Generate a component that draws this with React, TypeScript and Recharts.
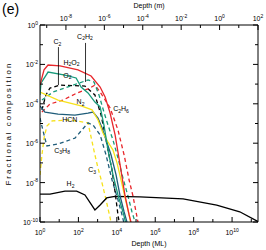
import React from 'react';
import { Line, LineChart, ReferenceDot, ReferenceLine, XAxis, YAxis } from 'recharts';

// depth = log10(depth in ML), frac = log10(fractional composition)
const h2o2Depth = [0, 0.21, 0.42, 1.04, 1.98, 2.66, 3.13, 3.39, 3.65, 3.91, 4.17, 4.43, 4.64, 4.84];
const h2o2Frac = [-3.05, -2.28, -2.03, -2.08, -2.28, -2.59, -3.15, -3.65, -4.47, -5.58, -7.1, -8.68, -9.64, -10.4];

const o2Depth = [0, 0.05, 0.42, 1.3, 1.88, 2.14, 2.5, 2.86, 3.13, 3.33, 3.54, 3.8, 4.06, 4.32, 4.53];
const o2Frac = [-3.55, -2.95, -2.39, -2.54, -2.69, -3.15, -3.45, -3.91, -4.16, -5.08, -6.35, -7.61, -8.63, -9.49, -10.3];

const n2Depth = [0, 0.94, 2.14, 2.71, 3.02, 3.28, 3.54, 3.8, 4.01, 4.22, 4.43, 4.64, 4.79];
const n2Frac = [-3.4, -3.81, -4.11, -4.31, -4.82, -5.48, -5.94, -6.35, -7.0, -7.87, -8.78, -9.64, -10.4];

const hcnDepth = [0, 0.26, 0.94, 1.82, 2.5, 2.76, 3.02, 3.23, 3.44, 3.7, 3.96, 4.17, 4.38, 4.64];
const hcnFrac = [-4.11, -4.42, -4.52, -4.57, -4.47, -4.42, -4.72, -5.23, -5.84, -6.6, -7.61, -8.68, -9.49, -10.4];

const c2Depth = [0.1, 0.31, 0.52, 1.04, 2.34, 2.86, 3.18, 3.39, 3.54, 3.75, 3.91, 4.06, 4.17];
const c2Frac = [-4.31, -3.55, -3.2, -3.05, -3.1, -3.55, -4.57, -5.58, -6.35, -7.36, -8.48, -9.64, -10.3];

const c2h2Depth = [0.1, 0.68, 1.72, 2.5, 2.81, 3.07, 3.33, 3.54, 3.8, 4.06, 4.32, 4.58, 4.79, 4.95, 5.05];
const c2h2Frac = [-3.81, -3.4, -3.05, -2.79, -2.89, -3.55, -4.42, -5.08, -5.84, -6.75, -7.77, -8.68, -9.49, -10, -10.4];

const c2h6Depth = [0.1, 0.52, 1.2, 1.93, 2.6, 2.86, 3.13, 3.65, 4.06, 4.38, 4.64, 4.84, 5.0, 5.1, 5.21];
const c2h6Frac = [-4.42, -4.01, -3.81, -3.45, -3.2, -3.05, -3.4, -4.21, -5.33, -6.6, -7.87, -8.68, -9.49, -10, -10.5];

const c3h8Depth = [0, 0.16, 0.36, 0.94, 1.82, 2.5, 2.76, 3.13, 3.44, 3.75, 4.06, 4.27, 4.43];
const c3h8Frac = [-4.72, -5.38, -6.14, -6.04, -5.74, -4.97, -5.08, -5.58, -6.6, -7.87, -8.88, -9.64, -10.3];

const c3Depth = [0, 0.1, 0.21, 0.36, 0.63, 1.56, 2.5, 2.86, 3.02, 3.23, 3.44, 3.65, 3.75];
const c3Frac = [-7.61, -6.6, -5.74, -5.13, -4.87, -4.82, -4.97, -6.6, -7.26, -8.02, -8.88, -9.79, -10.3];

const h2Depth = [0, 0.52, 1.3, 1.91, 2.34, 2.86, 3.13, 3.47, 3.9, 5.2, 7.45, 9.2, 10.4, 11.35];
const h2Frac = [-8.58, -8.58, -8.43, -8.43, -8.63, -9.39, -9.14, -8.78, -8.7, -8.72, -8.83, -9.14, -9.48, -9.98];

const mlTicks = [0, 1, 2, 3, 4, 5, 6, 7, 8, 9, 10, 11];
const meterTicks = [-9, -8, -7, -6, -5, -4, -3, -2, -1, 0, 1, 2];
const fracTicks = [-10, -9, -8, -7, -6, -5, -4, -3, -2, -1, 0];

const FONT = '"Liberation Sans", Arial, sans-serif';
const RED = '#e8262b';
const TEAL = '#179a7a';
const YELLOW = '#f6e21c';
const NAVY = '#1f5d7a';

const pts = (xs: number[], ys: number[]) => xs.map((x, i) => ({ x, y: ys[i] }));

const series = [
  { key: 'C3', data: pts(c3Depth, c3Frac), color: YELLOW, dash: '4 3' },
  { key: 'C3H8', data: pts(c3h8Depth, c3h8Frac), color: NAVY, dash: '4 3' },
  { key: 'C2', data: pts(c2Depth, c2Frac), color: '#000', dash: '4 3' },
  { key: 'C2H6', data: pts(c2h6Depth, c2h6Frac), color: RED, dash: '4 3' },
  { key: 'C2H2', data: pts(c2h2Depth, c2h2Frac), color: TEAL, dash: '4 3' },
  { key: 'H2', data: pts(h2Depth, h2Frac), color: '#000', dash: undefined },
  { key: 'HCN', data: pts(hcnDepth, hcnFrac), color: NAVY, dash: undefined },
  { key: 'N2', data: pts(n2Depth, n2Frac), color: YELLOW, dash: undefined },
  { key: 'O2', data: pts(o2Depth, o2Frac), color: TEAL, dash: undefined },
  { key: 'H2O2', data: pts(h2o2Depth, h2o2Frac), color: RED, dash: undefined },
];

// label centres in (log ML, log frac)
const labels = [
  { text: 'C2', x: 0.91, y: -0.85 },
  { text: 'C2H2', x: 2.34, y: -0.58 },
  { text: 'H2O2', x: 1.64, y: -1.88 },
  { text: 'O2', x: 1.43, y: -2.54 },
  { text: 'N2', x: 2.11, y: -3.89 },
  { text: 'HCN', x: 1.55, y: -4.82 },
  { text: 'C2H6', x: 4.22, y: -4.26 },
  { text: 'C3H8', x: 1.15, y: -6.35 },
  { text: 'C3', x: 2.71, y: -7.36 },
  { text: 'H2', x: 1.59, y: -8.05 },
];

const Pow = ({ x, y, exp, anchor }: any) => (
  <text x={x} y={y} textAnchor={anchor} fontSize={7} fontFamily={FONT} fill="#000">
    10
    <tspan dy={-3.5} fontSize={5}>
      {String(exp)}
    </tspan>
  </text>
);

const BottomTick = ({ x, y, payload }: any) => {
  const major = payload.value % 2 === 0;
  return (
    <g>
      <line x1={x} y1={y} x2={x} y2={y - (major ? 5 : 3)} stroke="#000" />
      {major && <Pow x={x} y={y + 13} exp={payload.value} anchor="middle" />}
    </g>
  );
};

const TopTick = ({ x, y, payload }: any) => {
  const major = payload.value % 2 === 0;
  return (
    <g>
      <line x1={x} y1={y} x2={x} y2={y + (major ? 5 : 3)} stroke="#000" />
      {major && <Pow x={x} y={y - 4} exp={payload.value} anchor="middle" />}
    </g>
  );
};

const LeftTick = ({ x, y, payload }: any) => {
  const major = payload.value % 2 === 0;
  return (
    <g>
      <line x1={x} y1={y} x2={x + (major ? 5 : 3)} y2={y} stroke="#000" />
      {major && <Pow x={x - 2} y={y + 3} exp={payload.value} anchor="end" />}
    </g>
  );
};

const RightTick = ({ x, y, payload }: any) => {
  const major = payload.value % 2 === 0;
  return <line x1={x} y1={y} x2={x - (major ? 5 : 3)} y2={y} stroke="#000" />;
};

const Formula = ({ cx, cy, text }: any) => {
  const parts: string[] = text.match(/[A-Za-z]+|\d+/g) || [];
  return (
    <text x={cx} y={cy + 2.5} textAnchor="middle" fontSize={7} fontFamily={FONT} fill="#000">
      {parts.map((p, i) =>
        /\d/.test(p) ? (
          <tspan key={i} fontSize={5} dy={1.5}>
            {p}
          </tspan>
        ) : (
          <tspan key={i} dy={i > 0 ? -1.5 : 0}>
            {p}
          </tspan>
        ),
      )}
    </text>
  );
};

const App: React.FC = () => {
  return (
    <div style={{ position: 'absolute', left: 0, top: 0, width: 266, height: 250, background: '#fff' }}>
      <div style={{ position: 'absolute', left: 2, top: 0, fontSize: 14, fontFamily: FONT, lineHeight: '18px' }}>
        (e)
      </div>
      <LineChart width={266} height={250} margin={{ top: 0, right: 0, bottom: 0, left: 0 }} style={{ fontFamily: FONT }}>
        <XAxis
          xAxisId="ml"
          type="number"
          dataKey="x"
          domain={[0, 11.35]}
          ticks={mlTicks}
          interval={0}
          allowDataOverflow
          height={28}
          tickSize={0}
          tickMargin={0}
          tickLine={false}
          tick={<BottomTick />}
          axisLine={{ stroke: '#000' }}
          label={{ value: 'Depth (ML)', position: 'insideBottom', offset: 4, fontSize: 7, fill: '#000' }}
        />
        <XAxis
          xAxisId="m"
          orientation="top"
          type="number"
          dataKey="x"
          domain={[-9.35, 2]}
          ticks={meterTicks}
          interval={0}
          allowDataOverflow
          height={25}
          tickSize={0}
          tickMargin={0}
          tickLine={false}
          tick={<TopTick />}
          axisLine={{ stroke: '#000' }}
          label={{ value: 'Depth (m)', position: 'insideTop', offset: 3, fontSize: 7, fill: '#000' }}
        />
        <YAxis
          yAxisId="f"
          type="number"
          dataKey="y"
          domain={[-10, 0]}
          ticks={fracTicks}
          interval={0}
          allowDataOverflow
          width={40}
          tickSize={0}
          tickMargin={0}
          tickLine={false}
          tick={<LeftTick />}
          axisLine={{ stroke: '#000' }}
          label={{
            value: 'Fractional composition',
            angle: -90,
            position: 'insideLeft',
            offset: 8,
            fontSize: 8,
            fill: '#000',
            style: { textAnchor: 'middle', letterSpacing: 2 },
          }}
        />
        <YAxis
          yAxisId="r"
          orientation="right"
          type="number"
          dataKey="y"
          domain={[-10, 0]}
          ticks={fracTicks}
          interval={0}
          allowDataOverflow
          width={8}
          tickSize={0}
          tickMargin={0}
          tickLine={false}
          tick={<RightTick />}
          axisLine={{ stroke: '#000' }}
        />
        {series.map((s) => (
          <Line
            key={s.key}
            xAxisId="ml"
            yAxisId="f"
            data={s.data}
            dataKey="y"
            type="linear"
            stroke={s.color}
            strokeWidth={1.3}
            strokeDasharray={s.dash}
            dot={false}
            isAnimationActive={false}
          />
        ))}
        <ReferenceLine
          xAxisId="ml"
          yAxisId="f"
          segment={[{ x: 0.96, y: -1.12 }, { x: 0.96, y: -3.05 }]}
          stroke="#000"
          strokeWidth={0.8}
        />
        <ReferenceLine
          xAxisId="ml"
          yAxisId="f"
          segment={[{ x: 2.37, y: -0.91 }, { x: 2.37, y: -2.89 }]}
          stroke="#000"
          strokeWidth={0.8}
        />
        {labels.map((l) => (
          <ReferenceDot
            key={l.text}
            xAxisId="ml"
            yAxisId="f"
            x={l.x}
            y={l.y}
            r={0}
            shape={(p: any) => <Formula cx={p.cx} cy={p.cy} text={l.text} />}
          />
        ))}
      </LineChart>
    </div>
  );
};

export default App;
